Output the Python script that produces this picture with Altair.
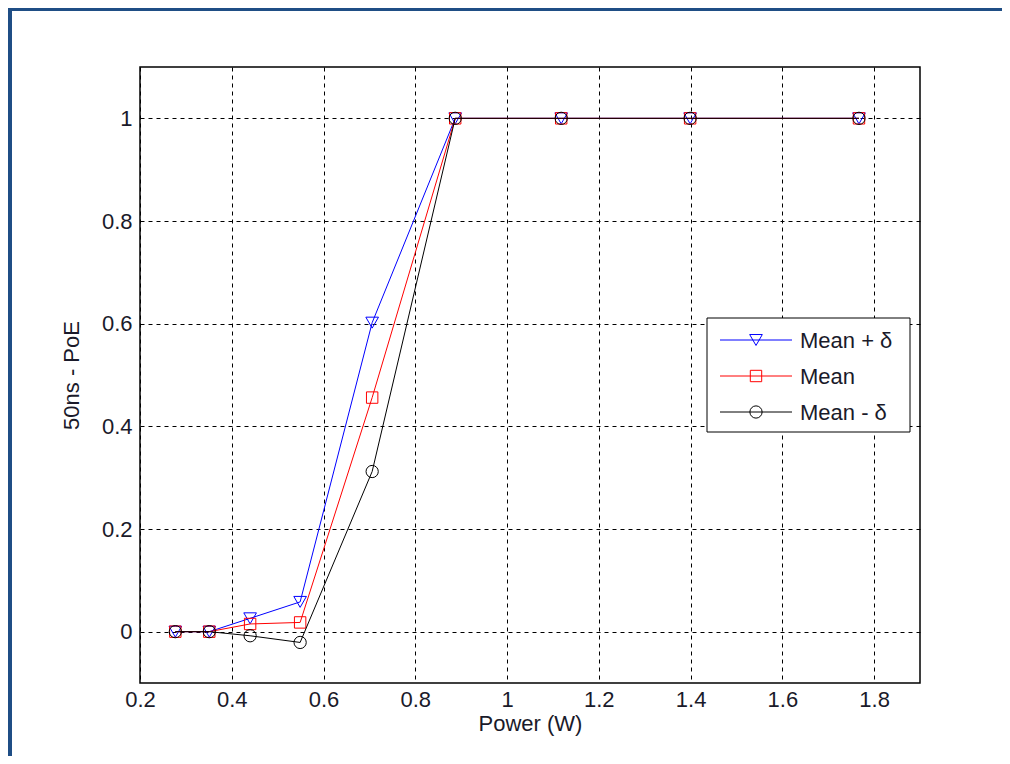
import altair as alt
import pandas as pd

# ---- data ----
power = [0.277, 0.351, 0.44, 0.549, 0.706, 0.887, 1.118, 1.399, 1.767]
mean_plus = [0.0, 0.0, 0.026, 0.058, 0.602, 1.0, 1.0, 1.0, 1.0]
mean_vals = [0.0, 0.0, 0.015, 0.018, 0.456, 1.0, 1.0, 1.0, 1.0]
mean_minus = [0.0, 0.0, -0.008, -0.021, 0.312, 1.0, 1.0, 1.0, 1.0]

series_names = ["Mean + \u03b4", "Mean", "Mean - \u03b4"]
series_values = [mean_plus, mean_vals, mean_minus]
series_colors = ["#0000ff", "#ff0000", "#000000"]
series_shapes = ["triangle-down", "square", "circle"]
series_sizes = [160, 130, 150]

x_ticks = [0.2, 0.4, 0.6, 0.8, 1.0, 1.2, 1.4, 1.6, 1.8]
y_ticks = [0, 0.2, 0.4, 0.6, 0.8, 1.0]

W, H = 780, 616
FONT = "Liberation Sans"
FS = 22
TXT = "#1a1a2a"

x_scale = alt.Scale(domain=[0.2, 1.9], nice=False, zero=False)
y_scale = alt.Scale(domain=[-0.1, 1.1], nice=False, zero=False)

x_axis = alt.Axis(values=x_ticks, title="Power (W)", format="~g", grid=True,
                  gridDash=[4, 4], gridColor="#000000", gridOpacity=1, gridWidth=1,
                  ticks=False, domain=False, labelPadding=6, titlePadding=3,
                  labelFontSize=FS, titleFontSize=FS, labelFont=FONT, titleFont=FONT,
                  labelColor=TXT, titleColor=TXT, titleFontWeight="normal",
                  labelFlush=False)
y_axis = alt.Axis(values=y_ticks, title="50ns - PoE", format="~g", grid=True,
                  gridDash=[4, 4], gridColor="#000000", gridOpacity=1, gridWidth=1,
                  ticks=False, domain=False, labelPadding=8, titlePadding=18,
                  labelFontSize=FS, titleFontSize=FS, labelFont=FONT, titleFont=FONT,
                  labelColor=TXT, titleColor=TXT, titleFontWeight="normal",
                  labelFlush=False)

layers = []
for i, (name, vals) in enumerate(zip(series_names, series_values)):
    df = pd.DataFrame({"power": power, "value": vals, "series": name})
    enc = dict(
        x=alt.X("power:Q", scale=x_scale, axis=x_axis),
        y=alt.Y("value:Q", scale=y_scale, axis=y_axis),
    )
    line = alt.Chart(df).mark_line(color=series_colors[i], strokeWidth=1).encode(**enc)
    pts = alt.Chart(df).mark_point(shape=series_shapes[i], size=series_sizes[i],
                                   filled=False, color=series_colors[i],
                                   strokeWidth=1, opacity=1).encode(**enc)
    layers += [line, pts]

# ---- legend (drawn by hand to show line + marker) ----
dummy = pd.DataFrame({"a": [0]})
leg_x0, leg_x1, leg_y0, leg_y1 = 567, 770, 251, 365
layers.append(alt.Chart(dummy).mark_rect(fill="white", stroke="black", strokeWidth=1).encode(
    x=alt.value(leg_x0), x2=alt.value(leg_x1), y=alt.value(leg_y0), y2=alt.value(leg_y1)))
row_y = [273, 309, 345]
for i, name in enumerate(series_names):
    layers.append(alt.Chart(dummy).mark_rule(color=series_colors[i], strokeWidth=1).encode(
        x=alt.value(580), x2=alt.value(652), y=alt.value(row_y[i])))
    layers.append(alt.Chart(dummy).mark_point(shape=series_shapes[i], size=series_sizes[i],
                                              filled=False, color=series_colors[i],
                                              strokeWidth=1, opacity=1).encode(
        x=alt.value(616), y=alt.value(row_y[i])))
    layers.append(alt.Chart(dummy).mark_text(text=name, align="left", baseline="middle",
                                             font=FONT, fontSize=FS, color=TXT).encode(
        x=alt.value(660), y=alt.value(row_y[i] + 1)))

# ---- outer blue frame (left and top edges) ----
frame_color = "#1f4e85"
layers.append(alt.Chart(dummy).mark_rule(color=frame_color, strokeWidth=4).encode(
    x=alt.value(-130), y=alt.value(-60), y2=alt.value(H + 80)))
layers.append(alt.Chart(dummy).mark_rule(color=frame_color, strokeWidth=4).encode(
    x=alt.value(-132), x2=alt.value(W + 90), y=alt.value(-58)))

chart = alt.layer(*layers).properties(
    width=W, height=H,
    background="white",
    autosize=alt.AutoSizeParams(type="none"),
    padding={"left": 132, "top": 59, "right": 82, "bottom": 73},
).configure_view(stroke="black", strokeWidth=1.5)

chart.save("out.html", embed_options={"renderer": "svg", "actions": False})
